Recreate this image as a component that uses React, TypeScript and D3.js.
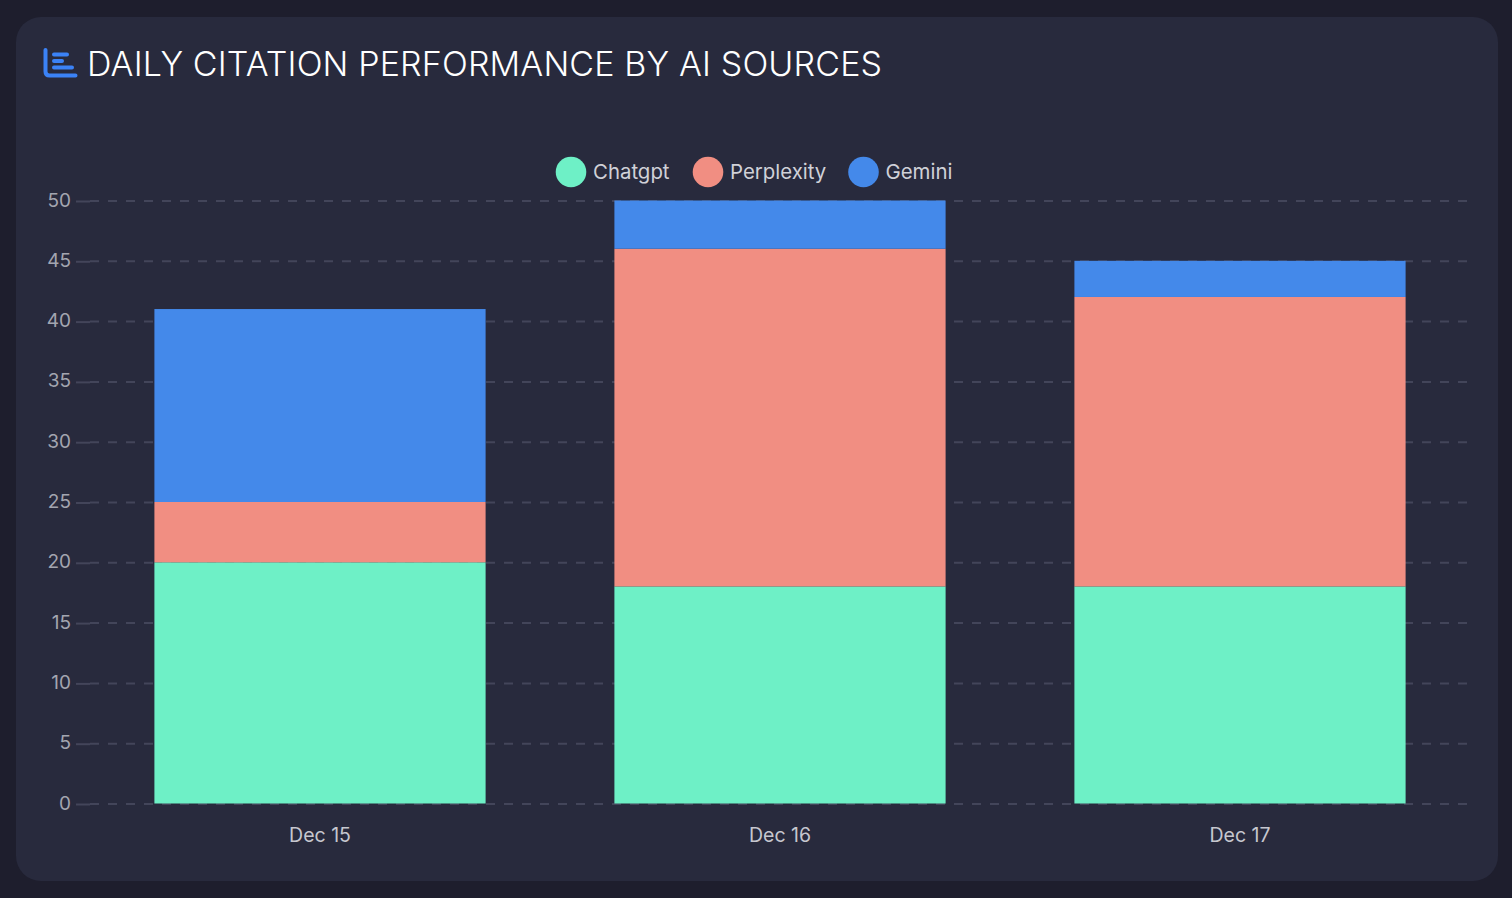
import { useEffect, useRef } from 'react';
import * as d3 from 'd3';

const days = ['Dec 15', 'Dec 16', 'Dec 17'];
const sources = ['Chatgpt', 'Perplexity', 'Gemini'];
const chatgpt = [20, 18, 18];
const perplexity = [5, 28, 24];
const gemini = [16, 4, 3];
const yTicks = [0, 5, 10, 15, 20, 25, 30, 35, 40, 45, 50];
const colors = ['#6ef0c6', '#f18e82', '#4489ea'];

const W = 1512;
const H = 898;
const FONT = 'Inter, "Liberation Sans", sans-serif';

export default function App() {
  const ref = useRef<SVGSVGElement | null>(null);
  useEffect(() => {
    const svg = d3.select(ref.current!);
    svg.selectAll('*').remove();

    svg.append('rect').attr('width', W).attr('height', H).attr('fill', '#1e1e2d');
    svg.append('rect').attr('x', 16).attr('y', 17).attr('width', 1482).attr('height', 864).attr('rx', 25).attr('fill', '#282a3d');

    // icon
    const icon = svg.append('g').attr('fill', 'none').attr('stroke', '#3b82f6').attr('stroke-linecap', 'round').attr('stroke-linejoin', 'round');
    icon.append('path').attr('d', 'M45.5 50V71.5q0 4 4 4H75.5').attr('stroke-width', 4);
    icon.append('path').attr('d', 'M54 54.5H67M54 61H62M54 67.5H72').attr('stroke-width', 4);

    svg.append('text').attr('x', 87).attr('y', 76).attr('fill', '#ffffff')
      .attr('font-family', FONT).attr('font-weight', 300).attr('font-size', 34).attr('textLength', 795)
      .text('DAILY CITATION PERFORMANCE BY AI SOURCES');

    const x = d3.scaleBand<string>().domain(days).range([90, 1470]).paddingInner(0.28).paddingOuter(0.14);
    const y = d3.scaleLinear().domain([0, 50]).range([803.5, 200.5]);

    const grid = svg.append('g');
    grid.selectAll('line.grid').data(yTicks).enter().append('line').attr('class', 'grid')
      .attr('x1', 90).attr('x2', 1470).attr('y1', (d) => y(d) + 0.5).attr('y2', (d) => y(d) + 0.5)
      .attr('stroke', '#43455a').attr('stroke-width', 2).attr('stroke-dasharray', '9,9');

    const yAxis = svg.append('g').attr('transform', 'translate(90,0.5)')
      .call(d3.axisLeft(y).tickValues(yTicks).tickSize(14).tickPadding(5).tickSizeOuter(0));
    yAxis.select('.domain').remove();
    yAxis.selectAll('.tick line').attr('stroke', '#43455a').attr('stroke-width', 2);
    yAxis.selectAll('text').attr('y', -1).attr('font-size', 19).attr('font-family', FONT).attr('fill', '#a3a5b0');

    const xAxis = svg.append('g').attr('transform', 'translate(0,803.5)')
      .call(d3.axisBottom(x).tickSize(0).tickPadding(25));
    xAxis.select('.domain').remove();
    xAxis.selectAll('text').attr('font-size', 19.5).attr('font-family', FONT).attr('fill', '#c6c7cf');

    const rows = days.map((day, i) => ({ day, Chatgpt: chatgpt[i], Perplexity: perplexity[i], Gemini: gemini[i] }));
    const stacked = d3.stack<any>().keys(sources)(rows);
    svg.append('g').selectAll('g').data(stacked).enter().append('g')
      .attr('fill', (_, i) => colors[i])
      .selectAll('rect').data((s) => s).enter().append('rect')
      .attr('x', (d) => x(d.data.day) ?? 0)
      .attr('width', x.bandwidth())
      .attr('y', (d) => y(d[1]))
      .attr('height', (d) => y(d[0]) - y(d[1]));

    // legend
    const legendX = [571, 708, 863.5];
    const legend = svg.append('g').selectAll('g').data(sources).enter().append('g')
      .attr('transform', (_, i) => `translate(${legendX[i]},172)`);
    legend.append('circle').attr('r', 15.3).attr('fill', (_, i) => colors[i]);
    legend.append('text').attr('x', 22).attr('y', 7).attr('font-size', 20.4).attr('font-family', FONT).attr('fill', '#d0d1d8')
      .text((d) => d);
  }, []);
  return <svg ref={ref} width={W} height={H} style={{ position: 'absolute', left: 0, top: 0 }} />;
}
